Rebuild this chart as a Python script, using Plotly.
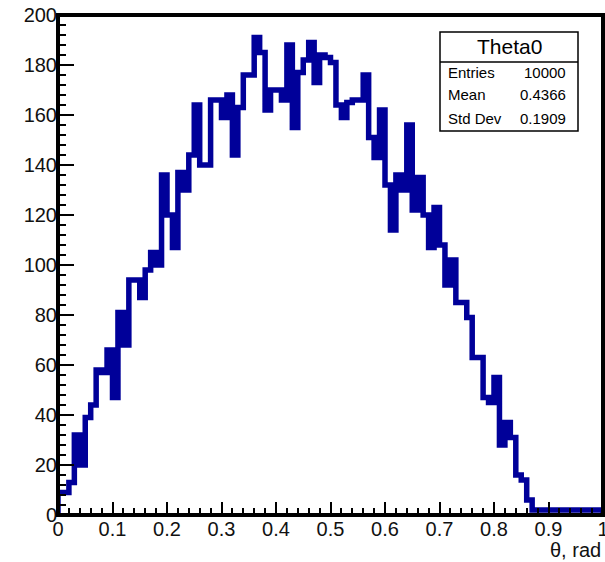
import numpy as np
import plotly.graph_objects as go

# Theta0: 100 bins on [0, 1] rad, bin contents
bin_low, bin_high, n_bins = 0.0, 1.0, 100
counts = [
    9, 9, 13, 32, 20, 39, 44, 58, 57, 66,
    47, 81, 68, 94, 94, 87, 98, 105, 100, 136,
    120, 107, 137, 130, 144, 164, 140, 140, 166, 166,
    159, 168, 144, 163, 176, 176, 191, 185, 162, 170,
    170, 166, 188, 155, 177, 182, 189, 173, 184, 183,
    181, 164, 159, 165, 166, 166, 176, 151, 143, 162,
    132, 114, 136, 130, 156, 122, 135, 120, 107, 123,
    108, 92, 102, 85, 85, 79, 63, 63, 47, 45,
    55, 28, 37, 31, 16, 14, 6, 2, 2, 2,
    2, 2, 2, 2, 2, 2, 2, 2, 2, 2,
]
x_tick_vals = [0, 0.1, 0.2, 0.3, 0.4, 0.5, 0.6, 0.7, 0.8, 0.9, 1.0]
x_tick_text = ["0", "0.1", "0.2", "0.3", "0.4", "0.5", "0.6", "0.7", "0.8", "0.9", "1"]
hist_name = "Theta0"
stats_labels = ["Entries", "Mean", "Std Dev"]
stats_values = ["10000", "0.4366", "0.1909"]
x_title = "θ, rad"
y_range = [0, 200]

FONT = "Liberation Sans, Arial, Helvetica, sans-serif"
LINE_BLUE = "#000099"

edges = np.linspace(bin_low, bin_high, n_bins + 1)
# step outline: up from the baseline, one point per bin, back down at the end
x_step = np.concatenate([[edges[0]], edges[:-1], [edges[-1]], [edges[-1]]])
y_step = np.concatenate([[0], counts, [counts[-1]], [0]])

fig = go.Figure()
fig.add_trace(go.Scatter(
    x=x_step, y=y_step, mode="lines", line_shape="hv",
    line=dict(color=LINE_BLUE, width=5.5),
    hoverinfo="skip", showlegend=False,
))

W, H = 605, 562
ml, mr, mt, mb = 58, 2, 15, 47
pw, ph = W - ml - mr, H - mt - mb


def px_x(px):
    return (px - ml) / pw


def px_y(py):
    return (H - mb - py) / ph


axis_common = dict(
    showgrid=False, zeroline=False, showline=False, automargin=False,
    ticks="inside", tickcolor="black", tickwidth=2,
    tickfont=dict(family=FONT, size=20, color="#111111"),
    ticklabeloverflow="allow",
)

fig.update_xaxes(
    range=[bin_low, bin_high], tickmode="array",
    tickvals=x_tick_vals, ticktext=x_tick_text, ticklen=13,
    minor=dict(ticks="inside", tick0=0, dtick=0.02, ticklen=7,
               tickcolor="black", tickwidth=2),
    **axis_common,
)
fig.update_yaxes(
    range=y_range, tick0=0, dtick=20, ticklen=16,
    minor=dict(ticks="inside", dtick=4, ticklen=8, tickcolor="black", tickwidth=2),
    **axis_common,
)

shapes = [
    # frame
    dict(type="rect", xref="paper", yref="paper", x0=0, x1=1, y0=0, y1=1,
         line=dict(color="black", width=4), fillcolor="rgba(0,0,0,0)", layer="above"),
    # statistics box
    dict(type="rect", xref="paper", yref="paper",
         x0=px_x(440), x1=px_x(578), y0=px_y(131), y1=px_y(32),
         line=dict(color="black", width=1.5), fillcolor="white", layer="above"),
    dict(type="line", xref="paper", yref="paper",
         x0=px_x(440), x1=px_x(578), y0=px_y(62), y1=px_y(62),
         line=dict(color="black", width=1.5), layer="above"),
]

annotations = [
    dict(text=hist_name, xref="paper", yref="paper", x=px_x(509), y=px_y(47),
         xanchor="center", yanchor="middle", showarrow=False,
         font=dict(family=FONT, size=21, color="black")),
    dict(text=x_title, xref="paper", yref="paper", x=1.0, y=px_y(550),
         xanchor="right", yanchor="middle", showarrow=False,
         font=dict(family=FONT, size=20, color="#111111")),
]
row_y = [72, 94.5, 118.5]
for lab, val, ry in zip(stats_labels, stats_values, row_y):
    annotations.append(dict(text=lab, xref="paper", yref="paper", x=px_x(446), y=px_y(ry),
                            xanchor="left", yanchor="middle", showarrow=False,
                            font=dict(family=FONT, size=15, color="black")))
    annotations.append(dict(text=val, xref="paper", yref="paper", x=px_x(568), y=px_y(ry),
                            xanchor="right", yanchor="middle", showarrow=False,
                            font=dict(family=FONT, size=15, color="black")))

fig.update_layout(
    width=W, height=H,
    margin=dict(l=ml, r=mr, t=mt, b=mb, pad=0),
    paper_bgcolor="white", plot_bgcolor="white",
    shapes=shapes, annotations=annotations,
    showlegend=False,
)

fig.write_html("out.html", config={"displayModeBar": False})
